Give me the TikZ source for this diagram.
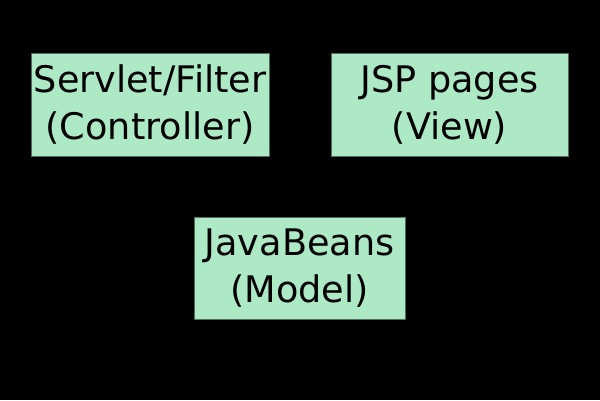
\documentclass[tikz,border=0pt]{standalone}
\usepackage{fontspec}
\setmainfont{DejaVu Sans}
\definecolor{boxfill}{RGB}{174,233,198}
\definecolor{boxline}{RGB}{80,110,92}
\begin{document}
\begin{tikzpicture}[x=1pt,y=1pt,
  box/.style={draw=boxline, line width=1pt, fill=boxfill, inner sep=0pt,
    align=center, text=black, minimum height=102pt,
    font=\fontsize{36.6}{47}\selectfont}]
\fill[black] (0,0) rectangle (600,400);
\useasboundingbox (0,0) rectangle (600,400);
\node[box, minimum width=238pt] (ctrl) at (150,295) {Servlet/Filter\\(Controller)};
\node[box, minimum width=237pt] (view) at (449.5,295) {JSP pages\\(View)};
\node[box, minimum width=211pt] (model) at (299.5,132) {JavaBeans\\(Model)};
\end{tikzpicture}
\end{document}
